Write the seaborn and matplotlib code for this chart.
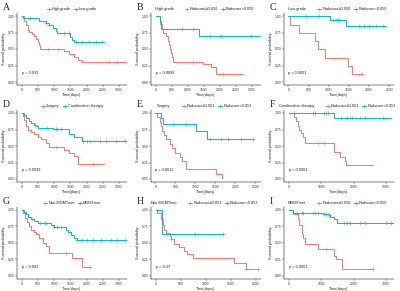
import numpy as np
import pandas as pd
import matplotlib
matplotlib.use("Agg")
import matplotlib.pyplot as plt
from matplotlib.lines import Line2D
import seaborn as sns

# --- Colours ---
RED = "#F8766D"
CYAN = "#00BFC4"

# --- Panel A: tumour grade ---
a_hi_t = [0, 80, 130, 180, 235, 320, 380, 440, 490, 520, 560, 1310, 1460, 1620, 1720, 1870, 3230]
a_hi_s = [1.0, 0.93, 0.86, 0.79, 0.76, 0.72, 0.69, 0.65, 0.61, 0.56, 0.50, 0.47, 0.42, 0.38, 0.34, 0.30, 0.30]
a_hi_c = [800, 1130, 2690, 2950]
a_lo_t = [0, 40, 520, 740, 850, 950, 1050, 1100, 1490, 1560, 1600, 2540]
a_lo_s = [1.0, 0.97, 0.92, 0.89, 0.86, 0.82, 0.78, 0.75, 0.68, 0.63, 0.60, 0.60]
a_lo_c = [240, 740, 850, 1310, 1460, 1670, 1870, 2080, 2280, 2490]

# --- Panel B: high grade by radscore ---
b_hi_t = [0, 130, 185, 215, 320, 370, 420, 445, 475, 515, 545, 1475, 1730, 1890, 2710]
b_hi_s = [1.0, 0.88, 0.81, 0.75, 0.69, 0.62, 0.56, 0.50, 0.44, 0.38, 0.31, 0.28, 0.22, 0.12, 0.12]
b_hi_c = [1170, 2110]
b_lo_t = [0, 130, 175, 1340, 3280]
b_lo_s = [1.0, 0.93, 0.81, 0.69, 0.69]
b_lo_c = [830, 1170, 1680, 2000, 2060, 2970]

# --- Panel C: low grade by radscore ---
c_hi_t = [0, 40, 270, 670, 730, 910, 1470, 1580, 1830]
c_hi_s = [1.0, 0.87, 0.75, 0.62, 0.50, 0.37, 0.25, 0.12, 0.12]
c_hi_c = [1830]
c_lo_t = [0, 1020, 1430, 2420]
c_lo_s = [1.0, 0.94, 0.85, 0.85]
c_lo_c = [440, 770, 1100, 1180, 1220, 1260, 1760, 1880, 2010, 2170, 2340]

# --- Panel D: treatment ---
d_su_t = [0, 30, 80, 130, 185, 290, 390, 490, 590, 750, 850, 1310, 1460, 1620, 1720, 1740, 2540]
d_su_s = [1.0, 0.96, 0.90, 0.81, 0.75, 0.71, 0.68, 0.64, 0.60, 0.55, 0.49, 0.44, 0.39, 0.35, 0.30, 0.22, 0.22]
d_su_c = [1060, 2190]
d_co_t = [0, 80, 130, 215, 290, 390, 440, 510, 950, 1460, 1620, 1850, 3250]
d_co_s = [1.0, 0.97, 0.93, 0.88, 0.85, 0.82, 0.80, 0.78, 0.76, 0.68, 0.63, 0.58, 0.58]
d_co_c = [400, 780, 1050, 1100, 1200, 1900, 2000, 2100, 2400, 2600, 2900, 3200]

# --- Panel E: surgery by radscore ---
e_hi_t = [0, 40, 110, 135, 175, 220, 275, 375, 425, 485, 610, 675, 760, 1525, 1660, 1690]
e_hi_s = [1.0, 0.94, 0.87, 0.80, 0.73, 0.66, 0.60, 0.53, 0.47, 0.40, 0.33, 0.27, 0.15, 0.08, 0.02, 0.02]
e_hi_c = []
e_lo_t = [0, 150, 190, 1025, 1290, 2440]
e_lo_s = [1.0, 0.93, 0.83, 0.73, 0.60, 0.60]
e_lo_c = [440, 775, 1360, 1650, 1810, 2150, 2430]

# --- Panel F: combination therapy by radscore ---
f_hi_t = [0, 150, 230, 270, 300, 380, 450, 500, 1400, 1580, 1750, 1780, 2600]
f_hi_s = [1.0, 0.94, 0.88, 0.80, 0.75, 0.70, 0.64, 0.54, 0.41, 0.33, 0.27, 0.21, 0.21]
f_hi_c = [900, 1100]
f_lo_t = [0, 1400, 3150]
f_lo_s = [1.0, 0.92, 0.92]
f_lo_c = [150, 750, 800, 1100, 1150, 1200, 1600, 1800, 1900, 1950, 2200, 2350, 2900]

# --- Panel G: MGMT status ---
g_no_t = [0, 50, 100, 150, 215, 290, 370, 440, 540, 640, 740, 850, 1560, 1860, 2100]
g_no_s = [1.0, 0.95, 0.88, 0.82, 0.76, 0.70, 0.66, 0.63, 0.58, 0.50, 0.45, 0.35, 0.27, 0.13, 0.13]
g_no_c = [1370, 2100]
g_me_t = [0, 80, 130, 180, 290, 390, 490, 900, 1000, 1350, 1420, 1520, 1610, 1690, 3250]
g_me_s = [1.0, 0.97, 0.94, 0.90, 0.86, 0.83, 0.80, 0.77, 0.74, 0.70, 0.66, 0.62, 0.58, 0.55, 0.55]
g_me_c = [300, 550, 700, 750, 1000, 1100, 1200, 1700, 1850, 2000, 2200, 2450, 2750, 2950, 3200]

# --- Panel H: non-MGMTmet by radscore ---
h_hi_t = [0, 30, 110, 150, 165, 215, 280, 310, 375, 475, 575, 620, 740, 1570, 1800, 2040]
h_hi_s = [1.0, 0.95, 0.87, 0.78, 0.70, 0.65, 0.60, 0.56, 0.49, 0.44, 0.38, 0.33, 0.28, 0.20, 0.10, 0.10]
h_hi_c = [310, 1800, 2040]
h_lo_t = [0, 135, 1340]
h_lo_s = [1.0, 0.64, 0.64]
h_lo_c = [780, 1340]

# --- Panel I: MGMTmet by radscore ---
i_hi_t = [0, 130, 280, 300, 400, 420, 440, 500, 900, 1400, 1470, 1650, 2600]
i_hi_s = [1.0, 0.94, 0.87, 0.77, 0.72, 0.64, 0.58, 0.48, 0.41, 0.30, 0.25, 0.10, 0.10]
i_hi_c = [1160, 2600]
i_lo_t = [0, 130, 1050, 1230, 1280, 1380, 1480, 3250]
i_lo_s = [1.0, 0.96, 0.94, 0.92, 0.90, 0.86, 0.81, 0.81]
i_lo_c = [250, 400, 450, 750, 800, 900, 1100, 1150, 1250, 1700, 1800, 1900, 2200, 2350, 3000, 3150]

RS50 = ["Radscore\u22650.050", "Radscore<0.050"]
RS53 = ["Radscore\u22650.053", "Radscore<0.053"]

# letter, title, labels, p text, xticks, xlim, red curve, cyan curve
PANELS = [
    ("A", None, ["High-grade", "Low-grade"], "p = 0.019", range(0, 3001, 500), (-150, 3250),
     (a_hi_t, a_hi_s, a_hi_c), (a_lo_t, a_lo_s, a_lo_c)),
    ("B", "High grade", RS50, "p = 0.0098", range(0, 3001, 500), (-150, 3280),
     (b_hi_t, b_hi_s, b_hi_c), (b_lo_t, b_lo_s, b_lo_c)),
    ("C", "Low grade", RS50, "p < 0.0001", range(0, 2501, 500), (-110, 2620),
     (c_hi_t, c_hi_s, c_hi_c), (c_lo_t, c_lo_s, c_lo_c)),
    ("D", None, ["Surgery", "Combination therapy"], "p = 0.0039", range(0, 3001, 500), (-150, 3250),
     (d_su_t, d_su_s, d_su_c), (d_co_t, d_co_s, d_co_c)),
    ("E", "Surgery", RS53, "p = 0.0011", range(0, 2501, 500), (-110, 2640),
     (e_hi_t, e_hi_s, e_hi_c), (e_lo_t, e_lo_s, e_lo_c)),
    ("F", "Combination therapy", RS53, "p < 0.0001", range(0, 3001, 1000), (-150, 3250),
     (f_hi_t, f_hi_s, f_hi_c), (f_lo_t, f_lo_s, f_lo_c)),
    ("G", None, ["Non-MGMTmet", "MGMTmet"], "p = 0.001", range(0, 3001, 500), (-150, 3250),
     (g_no_t, g_no_s, g_no_c), (g_me_t, g_me_s, g_me_c)),
    ("H", "Non-MGMTmet", RS53, "p = 0.37", range(0, 2001, 500), (-90, 2100),
     (h_hi_t, h_hi_s, h_hi_c), (h_lo_t, h_lo_s, h_lo_c)),
    ("I", "MGMTmet", RS50, "p < 0.0001", range(0, 3001, 1000), (-150, 3250),
     (i_hi_t, i_hi_s, i_hi_c), (i_lo_t, i_lo_s, i_lo_c)),
]

sns.set_theme(style="ticks")
plt.rcParams["font.family"] = ["Liberation Sans", "DejaVu Sans"]

W, H = 400, 291
fig = plt.figure(figsize=(4.0, 2.91), dpi=100)

COL_LEFT = [17, 151, 284]
AX_W = 110
ROW_TOP = [12.7, 109.7, 206.7]
AX_H = 72.6


def draw_curve(ax, t, s, cens, color):
    df = pd.DataFrame({"t": t, "s": s})
    sns.lineplot(data=df, x="t", y="s", ax=ax, color=color, lw=0.7,
                 drawstyle="steps-post", estimator=None, sort=False)
    if cens:
        idx = np.searchsorted(np.array(t), np.array(cens), side="right") - 1
        ys = np.array(s)[idx]
        ax.plot(cens, ys, ls="none", marker="+", ms=2.2, mew=0.4, color=color)


for k, (letter, title, labels, ptxt, xticks, xlim, red, cyan) in enumerate(PANELS):
    r, c = divmod(k, 3)
    left = COL_LEFT[c] / W
    bottom = 1 - (ROW_TOP[r] + AX_H) / H
    ax = fig.add_axes([left, bottom, AX_W / W, AX_H / H])

    draw_curve(ax, *red, RED)
    draw_curve(ax, *cyan, CYAN)

    ax.set_xlim(*xlim)
    ax.set_ylim(-0.05, 1.05)
    ax.set_xticks(list(xticks))
    ax.set_yticks([0, 0.25, 0.5, 0.75, 1.0])
    ax.set_yticklabels(["0.00", "0.25", "0.50", "0.75", "1.00"])
    ax.tick_params(labelsize=2.4, length=1.2, width=0.3, pad=0.8, colors="#333333")
    ax.set_xlabel("Time(days)", fontsize=2.8, labelpad=0.5)
    ax.set_ylabel("Survival probability", fontsize=2.8, labelpad=0.8)
    for sp in ["top", "right"]:
        ax.spines[sp].set_visible(False)
    for sp in ["left", "bottom"]:
        ax.spines[sp].set_linewidth(0.35)
        ax.spines[sp].set_color("black")

    ax.text(0, 0.13, ptxt, fontsize=2.8, ha="left", va="center")

    handles = [Line2D([], [], color=RED, lw=0.7, marker="+", ms=2.2, mew=0.4),
               Line2D([], [], color=CYAN, lw=0.7, marker="+", ms=2.2, mew=0.4)]
    leg_labels = list(labels)
    if title is not None:
        handles = [Line2D([], [], color="none")] + handles
        leg_labels = [title] + leg_labels
    leg = ax.legend(handles, leg_labels, loc="lower center", bbox_to_anchor=(0.5, 1.0),
                    ncol=len(handles), frameon=False, fontsize=2.8, handlelength=1.0,
                    handletextpad=0.3, columnspacing=0.8, borderaxespad=0.3, borderpad=0.1)
    if title is not None:
        leg.legend_handles[0].set_visible(False)
        # shift title text over the empty handle slot
        leg.get_texts()[0].set_position((-8, 0))

    fig.text((COL_LEFT[c] - 14) / W, 1 - (ROW_TOP[r] - 5) / H, letter,
             fontsize=7, family="Liberation Serif", ha="left", va="center")

fig.savefig("out.png", dpi=100)
